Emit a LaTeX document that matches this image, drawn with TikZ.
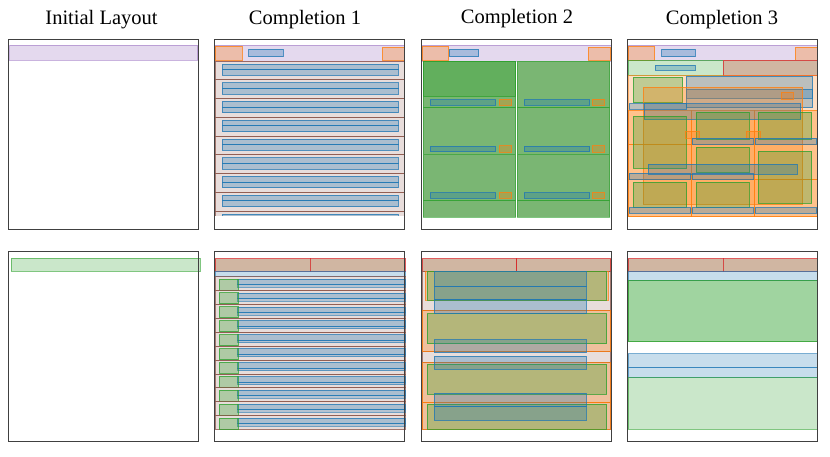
\documentclass[tikz,border=0pt]{standalone}
\usepackage{fontspec}
\setmainfont{Liberation Serif}
\usepackage{tikz}

\definecolor{tabblue}{HTML}{1F77B4}
\definecolor{taborange}{HTML}{FF7F0E}
\definecolor{tabgreen}{HTML}{2CA02C}
\definecolor{tabred}{HTML}{D62728}
\definecolor{tabpurple}{HTML}{9467BD}
\definecolor{tabbrown}{HTML}{8C564B}
\definecolor{headtan}{RGB}{208,182,162}
\definecolor{cellgreen}{RGB}{122,182,115}

\tikzset{
  frame/.style={draw=black!75, line width=0.9pt},
  pbox/.style={draw=tabpurple, draw opacity=0.5, fill=tabpurple!25, line width=0.9pt},
  obox/.style={draw=taborange, draw opacity=0.75, fill=taborange, fill opacity=0.3, line width=0.9pt},
  bbox/.style={draw=tabblue, draw opacity=0.75, fill=tabblue, fill opacity=0.3, line width=0.9pt},
  gbox/.style={draw=tabgreen, draw opacity=0.75, fill=tabgreen, fill opacity=0.3, line width=0.9pt},
  lbbox/.style={draw=tabblue, draw opacity=0.6, fill=tabblue, fill opacity=0.25, line width=0.9pt},
  lgbox/.style={draw=tabgreen, draw opacity=0.6, fill=tabgreen, fill opacity=0.25, line width=0.9pt},
  mgbox/.style={draw=tabgreen, draw opacity=0.8, fill=tabgreen, fill opacity=0.45, line width=0.9pt},
  cbox/.style={draw=tabgreen, draw opacity=0.6, fill=cellgreen, line width=0.9pt},
  rbox/.style={draw=tabred, draw opacity=0.75, fill=headtan, line width=0.9pt},
  brbox/.style={draw=tabbrown, draw opacity=0.75, fill=tabbrown, fill opacity=0.2, line width=0.9pt},
  title/.style={font=\fontsize{20.5}{23}\selectfont, anchor=base}
}

\begin{document}
\begin{tikzpicture}[x=1pt, y=-1pt]
\newcommand{\layoutbox}[5]{\draw[#1] (#2,#3) rectangle (#4,#5);}
\useasboundingbox (0,0) rectangle (830,457);

% titles
\node[title] (t1) at (101.5,25) {Initial Layout};
\node[title] (t2) at (305,25) {Completion 1};
\node[title] (t3) at (517,24) {Completion 2};
\node[title] (t4) at (722,25) {Completion 3};

% initial layouts
\begin{scope}[shift={(8.5,39.5)}]
  \layoutbox{pbox}{1}{5.5}{189}{20.5}
  \layoutbox{frame}{0}{0}{190}{189.5}
\end{scope}
\begin{scope}[shift={(8.5,251.5)}]
  \layoutbox{lgbox}{2.5}{6.5}{191.5}{19.5}
  \layoutbox{frame}{0}{0}{190}{189.5}
\end{scope}

% completion 1, top
\begin{scope}[shift={(214.5,39.5)}]
  \layoutbox{pbox}{0.5}{5.8}{190}{21.5}
  \layoutbox{obox}{0.5}{6.5}{27.5}{21}
  \layoutbox{obox}{167.8}{7.5}{189.8}{21}
  \layoutbox{bbox}{34.2}{9.8}{68.8}{17.2}
  \begin{scope}
    \clip (0,0) rectangle (190,176.5);
    \foreach \k in {0,...,8} {
      \pgfmathsetmacro{\tp}{21.5+18.75*\k}
      \layoutbox{brbox}{0.5}{\tp}{190}{\tp+18.75}
      \layoutbox{bbox}{7.8}{\tp+3}{183.8}{\tp+8.7}
      \layoutbox{bbox}{7.8}{\tp+8.7}{183.8}{\tp+14.3}
    }
  \end{scope}
  \layoutbox{frame}{0}{0}{190}{189.5}
\end{scope}

% completion 1, bottom
\begin{scope}[shift={(214.5,251.5)}]
  \layoutbox{rbox}{0.5}{7.2}{95.8}{19.5}
  \layoutbox{rbox}{95.8}{7.2}{190.5}{19.5}
  \layoutbox{lbbox}{0.5}{19.5}{190.5}{25.2}
  \foreach \k in {0,...,10} {
    \pgfmathsetmacro{\tp}{25.2+13.9*\k}
    \layoutbox{brbox}{0.5}{\tp}{190.5}{\tp+13.9}
    \layoutbox{bbox}{23.2}{\tp+2.5}{190.5}{\tp+8}
    \layoutbox{lbbox}{23.2}{\tp+8}{190.5}{\tp+10.5}
    \layoutbox{gbox}{4.5}{\tp+2.3}{23.8}{\tp+13.3}
  }
  \layoutbox{frame}{0}{0}{190}{189.5}
\end{scope}

% completion 2, top
\begin{scope}[shift={(421.3,39.5)}]
  \layoutbox{pbox}{0.7}{5.8}{190}{21.5}
  \layoutbox{obox}{0.7}{6.5}{27.4}{21}
  \layoutbox{obox}{167}{7.5}{189.4}{21}
  \layoutbox{bbox}{27.7}{9.8}{57.4}{17.2}
  \foreach \ya/\yb in {21.5/68.2, 68.2/114.8, 114.8/161.2, 161.2/177.8} {
    \layoutbox{cbox}{1.7}{\ya}{94.4}{\yb}
    \layoutbox{cbox}{95.7}{\ya}{188.4}{\yb}
  }
  \layoutbox{gbox}{1.7}{21.5}{94.4}{56.8}
  \foreach \yb in {68.2, 114.8, 161.2} {
    \layoutbox{bbox}{9}{\yb-8}{74.4}{\yb-2.7}
    \layoutbox{bbox}{103}{\yb-8}{168.4}{\yb-2.7}
    \layoutbox{obox}{77.7}{\yb-8.5}{89.7}{\yb-2.3}
    \layoutbox{obox}{171}{\yb-8.5}{183}{\yb-2.3}
  }
  \layoutbox{frame}{0}{0}{190}{189.5}
\end{scope}

% completion 2, bottom
\begin{scope}[shift={(421.3,251.5)}]
  \layoutbox{rbox}{0.7}{7.2}{95.4}{19.5}
  \layoutbox{rbox}{95.4}{7.2}{189.4}{19.5}
  \layoutbox{brbox}{0.7}{19.5}{189.4}{58.8}
  \layoutbox{brbox}{0.7}{58.8}{189.4}{100.2}
  \layoutbox{brbox}{0.7}{100.2}{189.4}{111.2}
  \layoutbox{brbox}{0.7}{111.2}{189.4}{151.2}
  \layoutbox{brbox}{0.7}{151.2}{189.4}{177.8}
  \layoutbox{obox}{4}{19.5}{186.7}{48.8}
  \layoutbox{obox}{0.7}{58.8}{189.4}{100.2}
  \layoutbox{obox}{0.7}{111.2}{189.4}{151.2}
  \layoutbox{obox}{0.7}{151.2}{189.4}{177.8}
  \layoutbox{gbox}{6}{19.5}{185.4}{48.8}
  \layoutbox{gbox}{6}{62.2}{185.4}{92.2}
  \layoutbox{gbox}{6}{112.8}{185.4}{142.8}
  \layoutbox{gbox}{6}{152.5}{185.4}{177.8}
  \foreach \ya/\yb in {19.5/34.8, 34.8/47.5, 47.5/62.2, 88.2/101.2, 104.5/117.8, 141.8/155.2, 155.2/168.8} {
    \layoutbox{bbox}{13}{\ya}{165}{\yb}
  }
  \layoutbox{frame}{0}{0}{190}{189.5}
\end{scope}

% completion 3, top
\begin{scope}[shift={(627.3,39.5)}]
  \layoutbox{pbox}{0.7}{5.8}{190}{20.8}
  \layoutbox{obox}{0.7}{6.5}{27.4}{20.8}
  \layoutbox{obox}{167.7}{7.5}{190}{20.8}
  \layoutbox{bbox}{34.4}{9.8}{68}{17.2}
  \layoutbox{lgbox}{0.7}{20.8}{95.7}{35.8}
  \layoutbox{bbox}{28}{25.8}{68}{30.8}
  \layoutbox{rbox}{95.7}{20.8}{190}{35.8}
  % orange background grid
  \draw[taborange, fill=taborange, fill opacity=0.25, draw opacity=0.5] (0.7,35.8) rectangle (190,177.2);
  \foreach \ya/\yb in {70.5/105, 105/139.5, 139.5/177.2} {
    \foreach \xa/\xb in {1/64, 64/127.5, 127.5/190} {
      \layoutbox{obox}{\xa}{\ya}{\xb}{\yb}
    }
  }
  \layoutbox{gbox}{6}{37.5}{55.4}{63.2}
  \layoutbox{bbox}{59}{36.5}{185.4}{68.2}
  \layoutbox{bbox}{59}{49.8}{185.4}{58.8}
  \layoutbox{obox}{16}{47.8}{175.4}{164.5}
  \layoutbox{obox}{154}{52.8}{166}{59.5}
  \layoutbox{bbox}{2}{64.2}{59}{69.8}
  \layoutbox{bbox}{16.7}{64.2}{173.4}{79.8}
  \layoutbox{gbox}{6}{76.8}{59}{128.8}
  \layoutbox{gbox}{69}{72.8}{122}{100}
  \layoutbox{gbox}{69}{107.8}{122}{132.8}
  \layoutbox{gbox}{131}{72.8}{184.4}{100}
  \layoutbox{gbox}{131}{111.5}{184.4}{163.8}
  \layoutbox{obox}{57.7}{91.5}{72}{98.8}
  \layoutbox{obox}{118.7}{91.5}{132.7}{98.8}
  \layoutbox{bbox}{65}{98.8}{126}{104.8}
  \layoutbox{bbox}{128}{98.8}{189.4}{104.8}
  \layoutbox{bbox}{20.7}{124.8}{169.7}{134.8}
  \layoutbox{bbox}{2}{133.8}{63.4}{139.5}
  \layoutbox{bbox}{65}{133.8}{126}{139.5}
  \layoutbox{gbox}{6}{142.5}{59.4}{167.8}
  \layoutbox{gbox}{69}{142.5}{122}{167.8}
  \layoutbox{bbox}{2}{168.2}{63.4}{173.8}
  \layoutbox{bbox}{65}{168.2}{126}{173.8}
  \layoutbox{bbox}{128}{168.2}{189.4}{173.8}
  \layoutbox{frame}{0}{0}{190}{189.5}
\end{scope}

% completion 3, bottom
\begin{scope}[shift={(627.3,251.5)}]
  \layoutbox{rbox}{0.7}{7.2}{95.7}{19.5}
  \layoutbox{rbox}{95.7}{7.2}{190}{19.5}
  \layoutbox{lbbox}{0.7}{19.5}{190}{29.2}
  \layoutbox{mgbox}{0.7}{29.2}{190}{90.2}
  \layoutbox{lbbox}{0.7}{102.2}{190}{115.8}
  \layoutbox{lbbox}{0.7}{115.8}{190}{126.2}
  \layoutbox{lgbox}{0.7}{126.2}{190}{177.8}
  \layoutbox{frame}{0}{0}{190}{189.5}
\end{scope}
\end{tikzpicture}
\end{document}
